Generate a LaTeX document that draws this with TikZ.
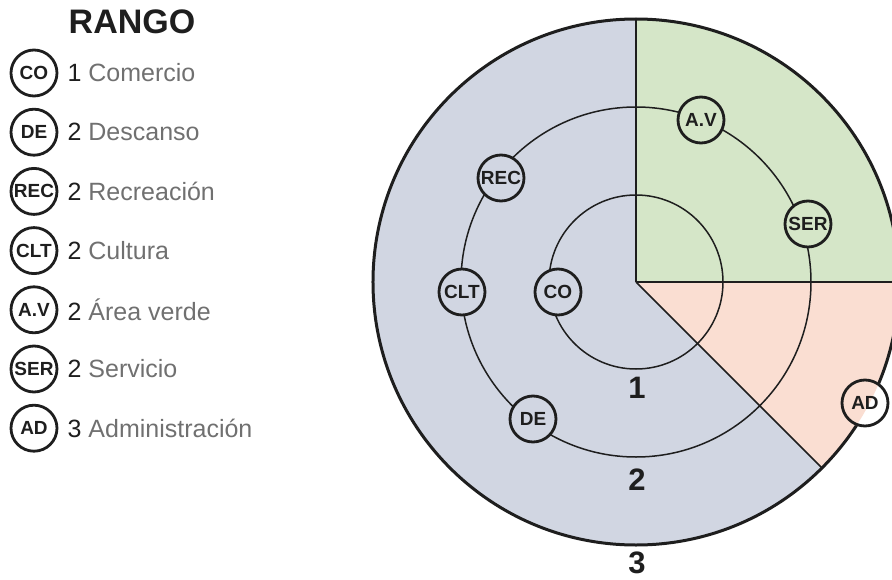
\documentclass[tikz,border=0pt]{standalone}
\usepackage{fontspec}
\setmainfont{Liberation Sans}
\usetikzlibrary{positioning}
\definecolor{rangoblue}{RGB}{209,214,226}
\definecolor{rangogreen}{RGB}{213,230,200}
\definecolor{rangopink}{RGB}{250,222,210}
\definecolor{rangoink}{RGB}{30,30,30}
\definecolor{rangogray}{RGB}{112,112,112}

\begin{document}
\begin{tikzpicture}[x=1pt, y=1pt,
  place/.style={circle, draw=rangoink, line width=2.8pt, minimum size=46pt,
    inner sep=0pt, text=rangoink, font=\bfseries\fontsize{19}{19}\selectfont},
  keytext/.style={inner sep=0pt, text=rangogray, font=\fontsize{25}{25}\selectfont},
  ring/.style={draw=rangoink, line width=1.5pt},
  ringnum/.style={text=rangoink, font=\bfseries\fontsize{31}{31}\selectfont}]
  \useasboundingbox (-636,-297) rectangle (256,282);
  \coordinate (o) at (0,0);
  \coordinate (rim n) at (90:263);
  \coordinate (rim e) at (0:263);
  \coordinate (rim se) at (-45:263);

  % Sectors
  \fill[rangoblue] (o) -- (rim n) arc[start angle=90, end angle=315, radius=263] -- cycle;
  \fill[rangogreen] (o) -- (rim e) arc[start angle=0, end angle=90, radius=263] -- cycle;
  \fill[rangopink] (o) -- (rim se) arc[start angle=-45, end angle=0, radius=263] -- cycle;

  % Rings and borders
  \draw[ring] (o) circle[radius=87];
  \draw[ring] (o) circle[radius=175];
  \draw[ring] (o) -- (rim n);
  \draw[ring] (o) -- (rim e);
  \draw[ring] (o) -- (rim se);
  \draw[draw=rangoink, line width=3pt] (o) circle[radius=263];

  % Places in the rings
  \node[place, fill=rangoblue] (co) at (-78,-10) {CO};
  \node[place, fill=rangoblue] (clt) at (-174,-10) {CLT};
  \node[place, fill=rangoblue] (rec) at (-135,104) {REC};
  \node[place, fill=rangoblue] (de) at (-103,-137) {DE};
  \node[place, fill=rangogreen] (av) at (65,162) {A.V};
  \node[place, fill=rangogreen] (ser) at (172,58) {SER};
  \begin{scope}
    \clip (229,-121) circle[radius=24];
    \fill[white] (229,-121) circle[radius=24];
    \fill[rangopink] (o) circle[radius=263];
  \end{scope}
  \node[place] (ad) at (229,-121) {AD};

  % Ring numbers
  \node[ringnum] (num one) at (1,-106) {1};
  \node[ringnum] (num two) at (1,-198) {2};
  \node[ringnum] (num three) at (1,-281) {3};

  % Legend
  \node[font=\bfseries\fontsize{34}{34}\selectfont, text=rangoink] (rango) at (-504,260) {RANGO};
  \node[place] (co key) at (-602,209) {CO};
  \node[place, below=10.4pt of co key] (de key) {DE};
  \node[place, below=10.4pt of de key] (rec key) {REC};
  \node[place, below=10.4pt of rec key] (clt key) {CLT};
  \node[place, below=10.4pt of clt key] (av key) {A.V};
  \node[place, below=10.4pt of av key] (ser key) {SER};
  \node[place, below=10.4pt of ser key] (ad key) {AD};
  \node[keytext, right=9pt of co key] (co text) {\textcolor{rangoink}{1} Comercio};
  \node[keytext, right=9pt of de key] (de text) {\textcolor{rangoink}{2} Descanso};
  \node[keytext, right=9pt of rec key] (rec text) {\textcolor{rangoink}{2} Recreación};
  \node[keytext, right=9pt of clt key] (clt text) {\textcolor{rangoink}{2} Cultura};
  \node[keytext, right=9pt of av key] (av text) {\textcolor{rangoink}{2} Área verde};
  \node[keytext, right=9pt of ser key] (ser text) {\textcolor{rangoink}{2} Servicio};
  \node[keytext, right=9pt of ad key] (ad text) {\textcolor{rangoink}{3} Administración};
\end{tikzpicture}
\end{document}
